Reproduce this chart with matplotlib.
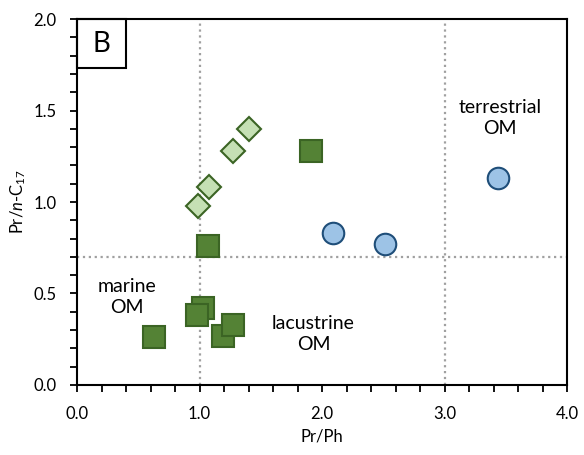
import matplotlib
matplotlib.use('Agg')
import matplotlib.pyplot as plt
from matplotlib.patches import Rectangle
from matplotlib.ticker import MultipleLocator, FormatStrFormatter

plt.rcParams['font.family'] = ['Lato', 'DejaVu Sans']
plt.rcParams['mathtext.fontset'] = 'custom'
plt.rcParams['mathtext.rm'] = 'Lato'
plt.rcParams['mathtext.it'] = 'Lato:italic'

# diamonds (light green)
dia_x = [0.99, 1.08, 1.27, 1.40]
dia_y = [0.98, 1.08, 1.28, 1.40]
# squares (dark green)
sq_x = [1.07, 1.03, 0.98, 0.63, 1.19, 1.27, 1.91]
sq_y = [0.76, 0.42, 0.38, 0.26, 0.27, 0.33, 1.28]
# circles (light blue)
ci_x = [2.09, 2.51, 3.44]
ci_y = [0.83, 0.77, 1.13]

labels = ['marine\nOM', 'lacustrine\nOM', 'terrestrial\nOM']
label_x = [0.41, 1.93, 3.45]
label_y = [0.48, 0.28, 1.46]

fig = plt.figure(figsize=(5.84, 4.55), dpi=100)
ax = fig.add_axes([0.132, 0.154, 0.839, 0.804])

ax.axvline(1.0, color='#a0a0a0', ls=':', lw=1.6, zorder=1)
ax.axvline(3.0, color='#a0a0a0', ls=':', lw=1.6, zorder=1)
ax.axhline(0.7, color='#a0a0a0', ls=':', lw=1.6, zorder=1)

ax.plot(dia_x, dia_y, 'D', ms=12, mfc='#c5e0b4', mec='#3b6424', mew=1.5, ls='none', zorder=3)
ax.plot(sq_x, sq_y, 's', ms=15.5, mfc='#548235', mec='#3b6424', mew=1.5, ls='none', zorder=3)
ax.plot(ci_x, ci_y, 'o', ms=15.5, mfc='#9dc3e6', mec='#1f4e79', mew=1.5, ls='none', zorder=3)

for t, x, y in zip(labels, label_x, label_y):
    ax.text(x, y, t, ha='center', va='center', fontsize=14, linespacing=1.3)

ax.set_xlim(0, 4)
ax.set_ylim(0, 2)
ax.xaxis.set_major_locator(MultipleLocator(1.0))
ax.xaxis.set_minor_locator(MultipleLocator(0.2))
ax.yaxis.set_major_locator(MultipleLocator(0.5))
ax.yaxis.set_minor_locator(MultipleLocator(0.1))
ax.xaxis.set_major_formatter(FormatStrFormatter('%.1f'))
ax.yaxis.set_major_formatter(FormatStrFormatter('%.1f'))
ax.tick_params(which='both', direction='out', length=5, width=1.3, labelsize=12, color='black')
ax.tick_params(axis='x', which='major', pad=10)
ax.tick_params(axis='y', which='major', pad=10)
for s in ax.spines.values():
    s.set_linewidth(1.5)

ax.set_xlabel('Pr/Ph', fontsize=12, labelpad=5)
ax.set_ylabel(r'Pr/$\it{n}$-C$_{17}$', fontsize=12, labelpad=4)

ax.add_patch(Rectangle((0, 1), 0.1, -0.134, transform=ax.transAxes, fill=False,
                       lw=1.5, edgecolor='black', clip_on=False, zorder=4))
ax.text(0.05, 1 - 0.067, 'B', transform=ax.transAxes, ha='center', va='center', fontsize=20)

fig.savefig('out.png', dpi=100)
